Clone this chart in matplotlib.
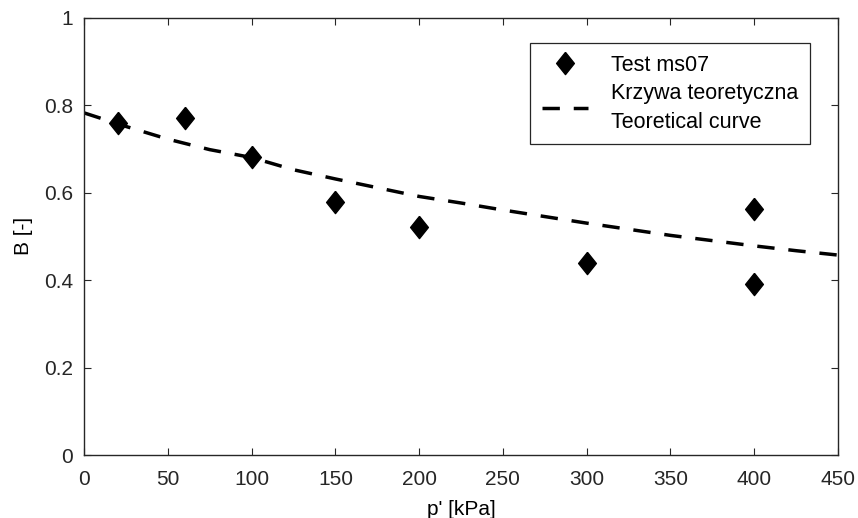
import numpy as np
import matplotlib
matplotlib.use('Agg')
import matplotlib.pyplot as plt

plt.rcParams['font.family'] = ['Liberation Sans', 'DejaVu Sans']

# measured points, test ms07
p_test = [20, 60, 100, 150, 200, 300, 400, 400]
b_test = [0.758, 0.770, 0.681, 0.578, 0.522, 0.440, 0.562, 0.391]

# theoretical curve B(p')
p_curve = [0, 25, 50, 75, 100, 125, 150, 175, 200, 225, 250, 275, 300, 325, 350, 375, 400, 425, 450]
b_curve = [0.782, 0.751, 0.722, 0.698, 0.680, 0.652, 0.631, 0.611, 0.591, 0.576, 0.560, 0.545, 0.530, 0.516, 0.502, 0.490, 0.478, 0.467, 0.457]

xticks = np.arange(0, 451, 50)
yticks = [0, 0.2, 0.4, 0.6, 0.8, 1]
ytick_labels = ['0', '0.2', '0.4', '0.6', '0.8', '1']

diamond = [(0, 1), (0.8, 0), (0, -1), (-0.8, 0), (0, 1)]

fig = plt.figure(figsize=(8.58, 5.18), dpi=100)
ax = fig.add_axes([0.098, 0.1216, 0.8787, 0.8446])

ax.plot(p_test, b_test, linestyle='none', marker=diamond, markersize=16,
        color='black', label='Test ms07', zorder=3)
ax.plot(p_curve, b_curve, color='black', linewidth=2.5, dashes=(5, 4),
        label='Krzywa teoretyczna\nTeoretical curve', zorder=2)

ax.set_xlim(0, 450)
ax.set_ylim(0, 1)
ax.set_xticks(xticks)
ax.set_yticks(yticks)
ax.set_yticklabels(ytick_labels)
ax.tick_params(direction='in', length=5, width=0.8, top=True, right=True,
               labelsize=15, colors='#262626')
ax.tick_params(axis='x', pad=11)
ax.tick_params(axis='y', pad=8)
for s in ax.spines.values():
    s.set_color('#262626')
    s.set_linewidth(1.0)

ax.set_xlabel("p' [kPa]", fontsize=15, labelpad=8)
ax.set_ylabel('B [-]', fontsize=15, labelpad=8)

leg = ax.legend(loc='upper right', bbox_to_anchor=(810 / 858, 1 - 43 / 518),
                bbox_transform=fig.transFigure, borderaxespad=0, fontsize=15.5,
                fancybox=False, edgecolor='#262626', framealpha=1,
                handlelength=2.15, handletextpad=1.05, labelspacing=0.35,
                borderpad=0.55)
leg.get_frame().set_linewidth(0.9)
# wider gap between the two lines of the curve label
for t in leg.get_texts():
    t.set_linespacing(1.45)

fig.savefig('out.png', dpi=100)
